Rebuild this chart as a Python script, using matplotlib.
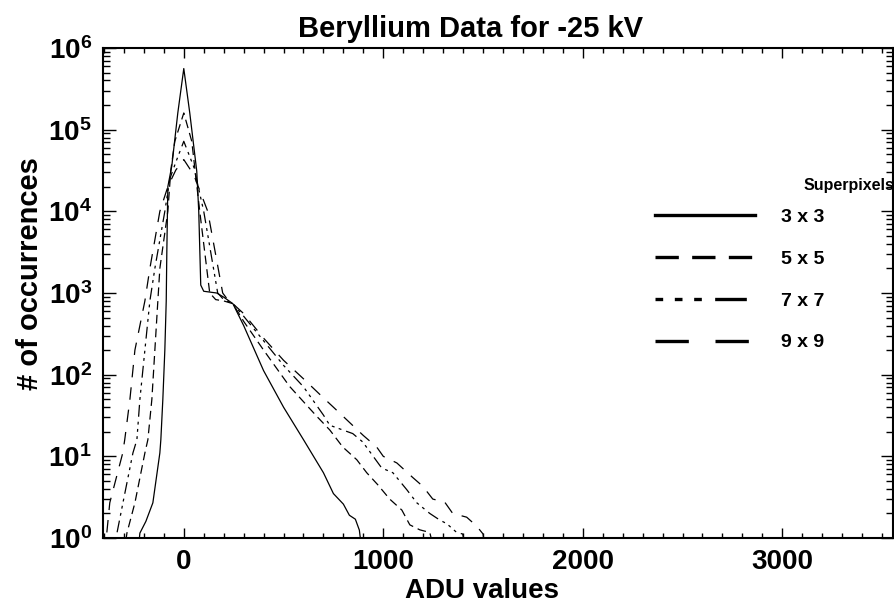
import matplotlib
matplotlib.use("Agg")
import matplotlib.pyplot as plt
from matplotlib.lines import Line2D
from matplotlib.ticker import MultipleLocator, LogLocator, NullFormatter

plt.rcParams["font.family"] = ["Liberation Sans", "DejaVu Sans"]
plt.rcParams["font.weight"] = "bold"
plt.rcParams["mathtext.fontset"] = "custom"
plt.rcParams["mathtext.rm"] = "Liberation Sans:bold"

# Values (ADU value, # of occurrences)
adu_3x3 = [-235, -220, -190, -155, -120, -115, -105, -95, -88, -85, -80, -60, -30, 0,
           30, 65, 75, 85, 100, 165, 200, 246, 300, 400, 500, 600, 700, 750, 800,
           830, 860, 880, 900]
cnt_3x3 = [0.5, 1.15, 1.6, 2.7, 11, 16, 50, 200, 800, 3200, 20000, 36000, 160000, 560000,
           160000, 31000, 10000, 1250, 1050, 1000, 890, 740, 400, 112, 40, 16, 6.3, 3.5, 2.6,
           1.9, 1.7, 1.25, 0.5]

adu_5x5 = [-300, -285, -245, -195, -180, -160, -145, -130, -120, -80, -65, -45, 0,
           40, 80, 130, 160, 200, 246, 300, 400, 530, 666, 732, 797, 867, 917, 972,
           1032, 1093, 1133, 1183, 1233, 1260]
cnt_5x5 = [0.63, 1.15, 2.7, 11, 16, 50, 200, 800, 2000, 10000, 32000, 72000, 160000,
           72000, 10000, 1000, 830, 800, 740, 450, 200, 72, 31, 21, 13, 9.1, 6.3, 4.5,
           3.0, 2.2, 1.45, 1.26, 1.17, 0.63]

adu_7x7 = [-350, -335, -305, -255, -235, -220, -195, -170, -145, -95, -70, -40, 0,
           50, 100, 170, 200, 246, 300, 400, 500, 600, 700, 732, 847, 897, 992, 1048,
           1118, 1168, 1233, 1283, 1318, 1368, 1398, 1420]
cnt_7x7 = [0.63, 1.15, 2.7, 11, 16, 50, 200, 800, 2000, 10000, 25000, 40000, 72000,
           35000, 10000, 1000, 830, 740, 520, 260, 130, 71, 32, 24, 19, 15, 7.2, 6.3,
           3.9, 2.7, 2.0, 1.66, 1.5, 1.17, 1.12, 0.63]

adu_9x9 = [-410, -386, -371, -306, -296, -270, -245, -195, -170, -120, -80, -40, 0,
           50, 120, 195, 220, 246, 300, 400, 500, 600, 700, 750, 817, 900, 967, 1000,
           1068, 1148, 1198, 1248, 1308, 1348, 1418, 1468, 1500, 1515]
cnt_9x9 = [0.63, 1.15, 2.7, 11, 16, 50, 200, 800, 2000, 10000, 20000, 32000, 43000,
           28000, 10000, 1000, 830, 740, 560, 280, 150, 89, 52, 40, 28, 18, 13, 10,
           8.3, 5.5, 4.3, 3.0, 2.75, 2.0, 1.8, 1.4, 1.12, 0.63]

labels = ["3 x 3", "5 x 5", "7 x 7", "9 x 9"]
styles = ["-", (0, (7, 4)), (0, (2.3, 3.5, 2.3, 3.5, 2.3, 4, 9.5, 4)), (0, (10, 8))]

fig = plt.figure(figsize=(8.94, 6.05), dpi=100)
ax = fig.add_axes([0.1152, 0.1107, 0.8837, 0.81])

series = [(adu_3x3, cnt_3x3), (adu_5x5, cnt_5x5), (adu_7x7, cnt_7x7), (adu_9x9, cnt_9x9)]
for (x, y), ls in zip(series, styles):
    ax.plot(x, y, color="black", lw=0.9, linestyle=ls)

ax.set_yscale("log")
ax.set_xlim(-405, 3555)
ax.set_ylim(1, 1e6)

ax.set_yticks([1, 10, 100, 1e3, 1e4, 1e5, 1e6])
ax.set_yticklabels([r"$\mathregular{10^{%d}}$" % i for i in range(7)])
ax.yaxis.set_minor_locator(LogLocator(base=10, subs=range(2, 10), numticks=20))
ax.yaxis.set_minor_formatter(NullFormatter())
ax.xaxis.set_major_locator(MultipleLocator(1000))
ax.xaxis.set_minor_locator(MultipleLocator(100))

ax.tick_params(axis="both", which="both", direction="in", top=True, right=True,
               width=1.0, labelsize=20, pad=8)
ax.tick_params(axis="y", which="major", length=9)
ax.tick_params(axis="y", which="minor", length=5)
ax.tick_params(axis="x", which="major", length=7)
ax.tick_params(axis="x", which="minor", length=3.5)
for sp in ax.spines.values():
    sp.set_linewidth(1.5)

ax.set_title("Beryllium Data for -25 kV", fontsize=21, fontweight="bold", pad=8, x=0.465)
ax.set_xlabel("ADU values", fontsize=20, fontweight="bold", labelpad=2, x=0.48)
ax.set_ylabel("# of occurrences", fontsize=21, fontweight="bold", labelpad=3, y=0.54)

handles = [Line2D([0], [0], color="black", lw=2.4, linestyle=ls) for ls in styles]
ax.legend(handles, labels, loc="upper left", bbox_to_anchor=(0.677, 0.709),
          frameon=False, handlelength=5.1, handletextpad=1.35, labelspacing=1.25,
          prop={"weight": "bold", "size": 14})
ax.text(0.944, 0.72, "Superpixels", transform=ax.transAxes, ha="center", va="center",
        fontsize=11.5, fontweight="bold")

fig.savefig("out.png", dpi=100)
